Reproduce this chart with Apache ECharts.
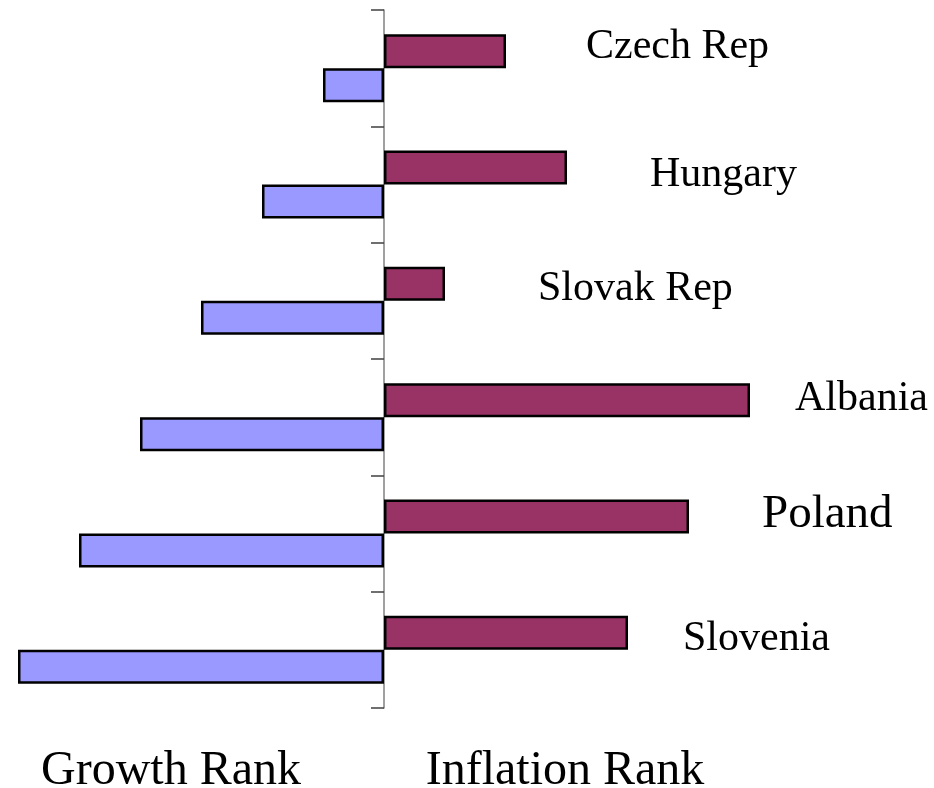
<!DOCTYPE html>
<html>
<head>
<meta charset="utf-8">
<script src="https://cdn.jsdelivr.net/npm/echarts@6/dist/echarts.min.js"></script>
<style>
	html, body { margin: 0; padding: 0; background: #fff; }
	#main { width: 934px; height: 788px; }
</style>
</head>
<body>
<div id="main"></div>
<script>
var categories = ['Czech Rep', 'Hungary', 'Slovak Rep', 'Albania', 'Poland', 'Slovenia'];
var inflationRank = [2, 3, 1, 6, 5, 4];
var growthRank = [1, 2, 3, 4, 5, 6];
var bottomLabels = ['Growth Rank', 'Inflation Rank'];

// label placement for each country (hand-placed in the original)
var labelDistance = [80, 83, 93, 45, 73, 55];
var labelShiftY = [-4, 7, 5, -1, -2, 6];
var labelSize = [42, 42, 42, 42, 47, 42];

function display() {
	var myChart = echarts.init(document.getElementById('main'));
	var font = '"Liberation Serif", "Times New Roman", serif';

	var inflationData = inflationRank.map(function(v, i) {
		return {
			value: v,
			label: {
				distance: labelDistance[i],
				offset: [0, labelShiftY[i]],
				fontSize: labelSize[i]
			}
		};
	});
	var growthData = growthRank.map(function(v) { return -v; });

	var titleStyle = { fontFamily: font, fontSize: 48, fontWeight: 'normal', color: '#000' };

	var option = {
		animation: false,
		title: [
			{ text: bottomLabels[0], left: 166, top: 742, textAlign: 'center', textStyle: titleStyle },
			{ text: bottomLabels[1], left: 560, top: 742, textAlign: 'center', textStyle: titleStyle }
		],
		grid: { left: 18, right: 184, top: 10, bottom: 80 },
		xAxis: {
			type: 'value',
			min: -6,
			max: 6,
			show: false
		},
		yAxis: {
			type: 'category',
			inverse: true,
			data: categories,
			axisLine: { onZero: true, lineStyle: { color: '#808080', width: 1.5 } },
			axisTick: { show: true, length: 13, lineStyle: { color: '#404040', width: 1.5 } },
			axisLabel: { show: false },
			splitLine: { show: false }
		},
		series: [
			{
				name: 'Inflation Rank',
				type: 'bar',
				data: inflationData,
				barWidth: 34,
				barGap: '0%',
				itemStyle: { color: '#993366', borderColor: '#000', borderWidth: 2.5 },
				label: {
					show: true,
					position: 'right',
					formatter: function(p) { return categories[p.dataIndex]; },
					fontFamily: font,
					color: '#000'
				}
			},
			{
				name: 'Growth Rank',
				type: 'bar',
				data: growthData,
				barWidth: 34,
				barGap: '0%',
				itemStyle: { color: '#9999ff', borderColor: '#000', borderWidth: 2.5 }
			}
		]
	};

	myChart.setOption(option);
}

display();
</script>
</body>
</html>
